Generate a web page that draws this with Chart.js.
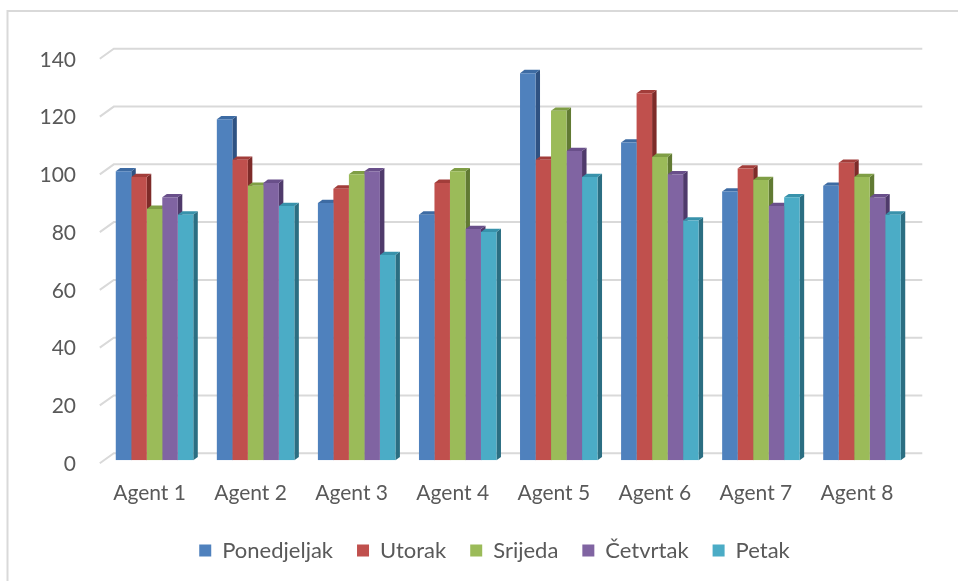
<!DOCTYPE html>
<html>
<head>
<meta charset="utf-8">
<script src="https://cdn.jsdelivr.net/npm/chart.js@4/dist/chart.umd.min.js"></script>
<style>
  html, body { margin: 0; padding: 0; background: #ffffff; }
  #wrap { width: 958px; height: 581px; position: relative; }
</style>
</head>
<body>
<div id="wrap"><canvas id="c" width="958" height="581"></canvas></div>
<script>
const categories = ['Agent 1', 'Agent 2', 'Agent 3', 'Agent 4', 'Agent 5', 'Agent 6', 'Agent 7', 'Agent 8'];
const seriesNames = ['Ponedjeljak', 'Utorak', 'Srijeda', 'Četvrtak', 'Petak'];
const ponedjeljak = [100, 118, 89, 85, 134, 110, 93, 95];
const utorak      = [98, 104, 94, 96, 104, 127, 101, 103];
const srijeda     = [87, 95, 99, 100, 121, 105, 97, 98];
const cetvrtak    = [91, 96, 100, 80, 107, 99, 88, 91];
const petak       = [85, 88, 71, 79, 98, 83, 91, 85];
const yTicks = [0, 20, 40, 60, 80, 100, 120, 140];

const seriesValues = [ponedjeljak, utorak, srijeda, cetvrtak, petak];
const frontColors = ['#4F81BD', '#C0504D', '#9BBB59', '#8064A2', '#4BACC6'];
const topColors   = ['#3D6BA3', '#A23D3A', '#7F9E45', '#694F8A', '#3892AB'];
const sideColors  = ['#2F5282', '#7E2B29', '#617A33', '#4F3A6B', '#2B6E82'];

// depth offsets (3D look)
const BAR_DX = 4.5, BAR_DY = 3.3;   // bar depth
const WALL_BACK_DX = 9.8, WALL_BACK_DY = 7;  // back wall relative to bar plane
const WALL_FRONT_DX = -4.2, WALL_FRONT_DY = 3; // front edge relative to bar plane

const depthPlugin = {
  id: 'depth3d',
  beforeDatasetsDraw(chart) {
    const ctx = chart.ctx;
    const area = chart.chartArea;
    const ys = chart.scales.y;
    ctx.save();
    // outer frame (left + top)
    ctx.strokeStyle = '#D9D9D9';
    ctx.lineWidth = 2;
    ctx.beginPath();
    ctx.moveTo(7.5, 581);
    ctx.lineTo(7.5, 11);
    ctx.lineTo(958, 11);
    ctx.stroke();

    // back wall gridlines and side wall diagonals
    ctx.strokeStyle = '#D9D9D9';
    ctx.lineWidth = 2;
    yTicks.forEach(v => {
      const y = ys.getPixelForValue(v);
      ctx.beginPath();
      ctx.moveTo(area.left + WALL_FRONT_DX, y + WALL_FRONT_DY);
      ctx.lineTo(area.left + WALL_BACK_DX, y - WALL_BACK_DY);
      ctx.lineTo(area.right + WALL_BACK_DX, y - WALL_BACK_DY);
      ctx.stroke();
    });

    // side faces first
    chart.data.datasets.forEach((ds, di) => {
      const meta = chart.getDatasetMeta(di);
      meta.data.forEach(el => {
        const p = el.getProps(['x', 'y', 'base', 'width'], true);
        const right = p.x + p.width / 2;
        ctx.fillStyle = sideColors[di];
        ctx.beginPath();
        ctx.moveTo(right, p.y);
        ctx.lineTo(right + BAR_DX, p.y - BAR_DY);
        ctx.lineTo(right + BAR_DX, p.base - BAR_DY);
        ctx.lineTo(right, p.base);
        ctx.closePath();
        ctx.fill();
      });
    });
    // top faces
    chart.data.datasets.forEach((ds, di) => {
      const meta = chart.getDatasetMeta(di);
      meta.data.forEach(el => {
        const p = el.getProps(['x', 'y', 'base', 'width'], true);
        const left = p.x - p.width / 2;
        const right = p.x + p.width / 2;
        ctx.fillStyle = topColors[di];
        ctx.beginPath();
        ctx.moveTo(left, p.y);
        ctx.lineTo(left + BAR_DX, p.y - BAR_DY);
        ctx.lineTo(right + BAR_DX, p.y - BAR_DY);
        ctx.lineTo(right, p.y);
        ctx.closePath();
        ctx.fill();
      });
    });
    ctx.restore();
  }
};

const textColor = '#595959';
const fontFamily = 'Lato, "Open Sans", sans-serif';

new Chart(document.getElementById('c'), {
  type: 'bar',
  data: {
    labels: categories,
    datasets: seriesNames.map((name, i) => ({
      label: name,
      data: seriesValues[i],
      backgroundColor: frontColors[i],
      borderWidth: 0,
      categoryPercentage: 0.767,
      barPercentage: 1.0
    }))
  },
  options: {
    responsive: false,
    animation: false,
    devicePixelRatio: 1,
    layout: { padding: { left: 31, right: 0, top: 55.8, bottom: 9.4 } },
    scales: {
      x: {
        grid: { display: false, drawTicks: false },
        border: { display: false },
        ticks: {
          color: textColor,
          font: { family: fontFamily, size: 21 },
          padding: 20,
          labelOffset: -5,
          maxRotation: 0,
          autoSkip: false
        },
        afterFit(scale) {
          scale.height = 55.4;
          scale.paddingLeft = 0; scale.paddingRight = 0;
        }
      },
      y: {
        min: 0,
        max: 140,
        grid: { display: false, drawTicks: false },
        border: { display: false },
        ticks: {
          stepSize: 20,
          color: textColor,
          font: { family: fontFamily, size: 21 },
          padding: 28,
          labelOffset: 4
        },
        afterFit(scale) {
          scale.width = 73;
          scale.paddingTop = 0; scale.paddingBottom = 0;
        }
      },
      spacer: {
        position: 'right',
        display: true,
        grid: { display: false, drawTicks: false },
        border: { display: false },
        ticks: { display: false },
        afterFit(scale) {
          scale.width = 45.5;
          scale.paddingTop = 0; scale.paddingBottom = 0;
        }
      }
    },
    plugins: {
      tooltip: { enabled: false },
      legend: {
        position: 'bottom',
        labels: {
          color: textColor,
          font: { family: fontFamily, size: 22 },
          boxWidth: 12,
          boxHeight: 12,
          padding: 24
        }
      }
    }
  },
  plugins: [depthPlugin]
});
</script>
</body>
</html>
